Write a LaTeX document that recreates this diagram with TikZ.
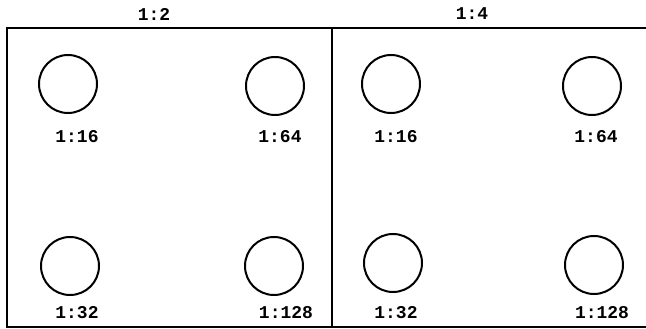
\documentclass[tikz,border=0pt]{standalone}
\usepackage{fontspec}
\setmonofont{Liberation Mono}
\usetikzlibrary{positioning}

\begin{document}
\begin{tikzpicture}[x=1pt, y=-1pt,
    every node/.style={font=\ttfamily\bfseries\fontsize{18}{18}\selectfont},
    hole/.style={draw, circle, line width=2pt, minimum size=58pt, inner sep=0pt}]
  \useasboundingbox (0,0) rectangle (646,329);
  % Frame: open on the right, split in two panels
  \draw[line width=1.4pt] (646,28) -- (7,28) -- (7,327) -- (646,327);
  \draw[line width=1.4pt] (332,28) -- (332,327);
  \node (ratioA) at (154,14) {1:2};
  \node (ratioB) at (472,14) {1:4};
  % Left panel
  \node[hole] (a16) at (68,84) {};
  \node[hole] (a64) at (275,86) {};
  \node[hole] (a32) at (70,266) {};
  \node[hole] (a128) at (274,266) {};
  \node (la16) at (77,137) {1:16};
  \node (la64) at (280,137) {1:64};
  \node (la32) at (77,313) {1:32};
  \node (la128) at (286,313) {1:128};
  % Right panel
  \node[hole] (b16) at (391,84) {};
  \node[hole] (b64) at (592,86) {};
  \node[hole] (b32) at (393,263) {};
  \node[hole] (b128) at (594,265) {};
  \node (lb16) at (396,137) {1:16};
  \node (lb64) at (596,137) {1:64};
  \node (lb32) at (396,313) {1:32};
  \node (lb128) at (602,313) {1:128};
\end{tikzpicture}
\end{document}
